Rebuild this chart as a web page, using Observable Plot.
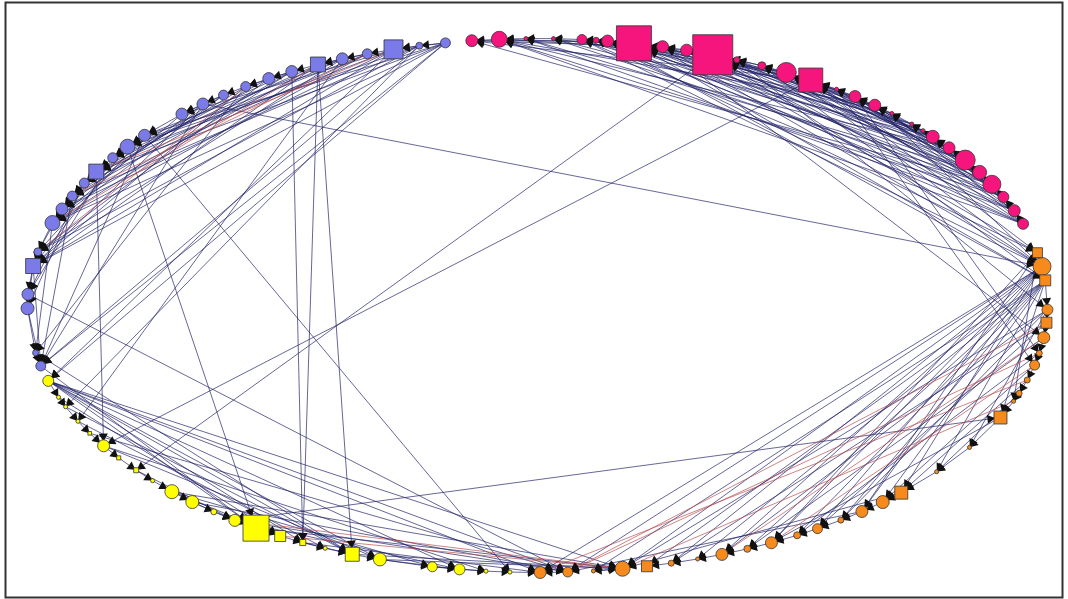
<!DOCTYPE html>
<html><head><meta charset="utf-8">
<script src="https://cdn.jsdelivr.net/npm/d3@7"></script>
<script src="https://cdn.jsdelivr.net/npm/@observablehq/plot@0.6"></script>
<style>body{margin:0;background:#fff}svg{display:block}</style>
</head><body><div id="chart"></div>
<script>
// Node lists: [layout angle (deg, counter-clockwise from east), shape, weight]
const blueNodes = [
  [100.4,"circle",4.7],[103.4,"circle",2.3],[106.4,"square",21.7],[109.5,"circle",4.7],[112.5,"circle",6.8],
  [115.5,"square",13.5],[118.8,"circle",6.8],[121.8,"circle",6.8],[124.9,"circle",4.7],[128.0,"circle",4.7],
  [131.0,"circle",6.8],[134.2,"circle",6.8],[140.4,"circle",6.8],[143.5,"circle",10.6],[146.4,"circle",4.7],
  [149.9,"square",13.5],[152.7,"circle",4.7],[155.8,"circle",4.7],[158.8,"circle",6.8],[162.0,"circle",10.6],
  [168.4,"circle",3],[171.5,"square",13.5],[177.6,"circle",6.8],[180.6,"circle",8],[190.2,"circle",1.7],[193.1,"circle",4.7]
];
const yellowNodes = [
  [196.4,"circle",5.7],[200.1,"circle",0.8],[202.3,"circle",0.8],[205.7,"circle",0.8],[208.6,"square",0.8],
  [211.7,"circle",6.8],[214.8,"square",1],[218.1,"square",1.5],[221.0,"circle",0.8],[224.2,"circle",9.3],
  [227.4,"circle",8],[230.6,"circle",1.7],[233.6,"circle",6.8],[236.5,"square",40.7],[239.7,"square",7.3],
  [242.6,"square",2.2],[245.4,"circle",0.8],[248.7,"square",11.8],[252.0,"circle",8],[258.1,"circle",4.7],
  [261.2,"circle",5.7],[264.2,"circle",0.8],[266.9,"circle",0.8]
];
const orangeNodes = [
  [270.3,"circle",6.8],[273.4,"circle",4.7],[276.3,"circle",0.8],[279.6,"circle",10.6],[282.4,"square",7.3],
  [285.2,"circle",1.7],[288.3,"circle",0.8],[291.2,"circle",6.8],[294.3,"circle",2.3],[297.3,"circle",6.8],
  [300.6,"circle",2.3],[303.3,"circle",4.7],[306.5,"circle",1.7],[309.5,"circle",6.8],[312.6,"circle",8],
  [315.5,"square",10.2],[321.5,"circle",0.8],[327.9,"circle",0.8],[335.2,"square",10.2],[339.0,"circle",0.8],
  [340.8,"circle",1.7],[343.8,"circle",1.7],[347.1,"circle",4.7],[349.7,"circle",1.7],[353.1,"circle",6.8],
  [356.3,"square",7.3],[359.1,"circle",5.7],[365.4,"square",7.3],[368.4,"circle",15.3],[371.4,"square",6]
];
const pinkNodes = [
  [17.8,"circle",5.7],[20.8,"circle",6.8],[24.0,"circle",5.7],[27.0,"circle",15.3],[29.9,"circle",9.3],
  [33.0,"circle",18.9],[36.2,"circle",6.8],[39.2,"circle",8],[40.9,"circle",0.8],[42.8,"circle",0.8],
  [46.0,"circle",0.8],[48.6,"circle",6.8],[51.5,"circle",6.8],[54.1,"circle",0.8],[57.6,"square",34.7],
  [60.8,"circle",18.9],[63.9,"circle",3],[67.0,"circle",1.7],[69.9,"square",96.3],[73.0,"circle",6.8],
  [75.8,"circle",6.8],[79.1,"square",73.7],[82.1,"circle",6.8],[83.4,"circle",1.7],[85.0,"circle",4.7],
  [88.2,"circle",0.8],[91.3,"circle",0.8],[94.3,"circle",12],[97.4,"circle",6.8]
];
const groupColors = {b:"#7a7ae8", y:"#ffff00", o:"#f78a1c", p:"#f5157c"};

// Directed ties [source, target]
const rimTies = [
  ["b0","b1"],["b1","b2"],["b2","b3"],["b3","b4"],["b4","b5"],["b5","b6"],["b6","b7"],["b7","b8"],["b8","b9"],["b9","b10"],
  ["b10","b11"],["b11","b12"],["b12","b13"],["b13","b14"],["b14","b15"],["b15","b16"],["b16","b17"],["b17","b18"],["b18","b19"],
  ["b19","b20"],["b20","b21"],["b21","b22"],["b22","b23"],["b23","b24"],["b24","b25"],["b0","b2"],["b3","b5"],["b6","b8"],
  ["b9","b11"],["b12","b14"],["b15","b17"],["b18","b20"],["b21","b23"],["b23","b25"],
  ["y0","y1"],["y1","y2"],["y2","y3"],["y3","y4"],["y4","y5"],["y5","y6"],["y6","y7"],["y7","y8"],["y8","y9"],["y9","y10"],
  ["y10","y11"],["y11","y12"],["y12","y13"],["y14","y15"],["y15","y16"],["y16","y17"],["y17","y18"],["y18","y19"],["y19","y20"],
  ["y20","y21"],["y21","y22"],["y22","o0"],["y10","y12"],["y15","y17"],["y18","y20"],["y19","y21"],
  ["o1","o0"],["o3","o2"],["o5","o4"],["o6","o5"],["o7","o6"],["o8","o7"],["o9","o8"],["o10","o9"],["o11","o10"],["o12","o11"],
  ["o13","o12"],["o14","o13"],["o15","o14"],["o16","o15"],["o17","o16"],["o18","o17"],["o19","o18"],["o20","o19"],["o21","o20"],
  ["o22","o21"],["o23","o22"],["o24","o23"],["o25","o24"],["o26","o25"],["o27","o26"],["o28","o27"],["o29","o28"],["o2","o3"],
  ["p0","p1"],["p1","p2"],["p2","p3"],["p3","p4"],["p4","p5"],["p5","p6"],["p6","p7"],["p7","p8"],["p8","p9"],["p9","p10"],
  ["p10","p11"],["p11","p12"],["p12","p13"],["p13","p14"],["p15","p16"],["p16","p17"],["p17","p18"],["p19","p20"],["p20","p21"],
  ["p22","p23"],["p23","p24"],["p24","p25"],["p25","p26"],["p26","p27"],["p27","p28"]
];
const blueTies = [
  ["b0","b12"],["b0","b15"],["b0","b19"],["b0","b21"],["b0","b25"],["b1","b13"],["b1","b17"],["b1","b20"],["b1","b25"],
  ["b2","b11"],["b2","b14"],["b2","b18"],["b2","b21"],["b3","b13"],["b3","b16"],["b3","b19"],["b4","b12"],["b4","b15"],
  ["b4","b20"],["b5","b14"],["b5","b18"],["b5","b21"],["b6","b13"],["b6","b17"],["b6","b19"],["b7","b15"],["b7","b20"],
  ["b8","b16"],["b8","b21"],["b9","b17"],["b9","b19"],["b10","b18"],["b10","b21"],["b11","b19"],["b12","b20"],["b13","b21"],
  ["b14","b22"],["b16","b23"],["b17","b25"],["b19","b24"],["b21","b25"],["b16","b22"],["b12","b25"],["b10","b25"],["b8","b24"],
  ["b0","y0"],["b2","y0"],["b4","y3"],["b1","y2"]
];
const yellowTies = [
  ["y0","y13"],["y0","y15"],["y0","y17"],["y0","y18"],["y0","y20"],["y0","o0"],["y0","o1"],["y0","o3"],["y1","y14"],
  ["y2","y17"],["y3","y16"],["y4","o1"],["y5","y18"],["y5","y21"],["y9","y19"],["y9","o3"],["y10","o1"],["y12","y20"],
  ["y13","o3"],["y15","o0"],["y17","o3"],["y18","o3"],["y12","o1"],["b25","y13"],["b24","y17"],["y7","y12"],["y9","y14"]
];
const orangeTies = [
  ["o28","o0"],["o28","o1"],["o28","o3"],["o28","o5"],["o28","o7"],["o28","o9"],["o28","o11"],["o28","o13"],["o28","o15"],
  ["o27","o2"],["o27","o4"],["o27","o6"],["o27","o8"],["o27","o10"],["o27","o12"],["o27","o14"],["o27","o16"],["o27","o18"],
  ["o26","o3"],["o26","o7"],["o26","o12"],["o26","o17"],["o29","o9"],["o29","o13"],["o29","o19"],["o25","o5"],["o25","o11"],
  ["o24","o8"],["o23","o10"],["o22","o14"],["o21","o15"],["o20","o16"],["o15","o3"],["o13","o1"],["o18","o9"]
];
const pinkTies = [
  ["p0","p21"],["p0","p18"],["p0","p24"],["p0","p27"],["p1","p19"],["p1","p22"],["p1","p26"],["p2","p27"],["p2","p20"],
  ["p2","p23"],["p3","p18"],["p3","p21"],["p3","p25"],["p3","p28"],["p4","p26"],["p4","p19"],["p4","p22"],["p5","p18"],
  ["p5","p21"],["p5","p24"],["p6","p20"],["p6","p22"],["p6","p27"],["p7","p18"],["p7","p21"],["p7","p25"],["p8","p19"],
  ["p8","p23"],["p9","p21"],["p9","p18"],["p10","p22"],["p10","p14"],["p11","p18"],["p11","p20"],["p11","p27"],["p12","p21"],
  ["p12","p16"],["p13","p19"],["p14","p22"],["p14","p28"],["p15","p21"],["p15","p25"],["p16","p18"],["p17","p22"],["p19","p27"],
  ["p20","p28"],["p21","p27"],["p22","p28"],["p5","p15"],["p3","p11"],["p1","p7"],["p0","p5"],["p2","p12"],["p6","p14"],
  ["p0","p14"],["p1","p15"],["p2","p16"],["p3","p17"],["p4","p14"],["p5","p12"],["p6","p16"],["p7","p15"],["p8","p17"],
  ["p9","p14"],["p0","p10"],["p2","p9"],["p4","p11"],["p1","p12"],["p3","p13"],
  ["p18","o28"],["p21","o27"],["p19","o29"],["p15","o28"],["p22","o27"],["p14","o29"],["p24","o28"],
  ["p16","o27"],["p20","o28"],["p23","o29"],["p11","o28"],["p17","o26"]
];
const crossTies = [
  ["b10","o28"],["p18","y7"],["p14","y5"],["b5","y15"],["b6","y15"],["b5","y17"],["b15","y5"],["b13","y13"],["b12","y22"],
  ["b22","o1"],["y12","o18"],["p20","o24"],["p13","o22"],["p12","o23"]
];
const redTies = [
  ["b3","b17"],["b5","b19"],["b8","b20"],["b2","b15"],["y12","o3"],["y14","o3"],["o25","o1"],["o23","o1"],["o21","o0"],
  ["o19","o3"],["o22","o9"],["o24","o7"]
];

// layout of the ring
const W = 1068, H = 599, cx = 537, cy = 305, rx = 510, ry = 267;
const nodes = [];
for (const [list, p] of [[blueNodes,"b"],[yellowNodes,"y"],[orangeNodes,"o"],[pinkNodes,"p"]]) {
  list.forEach(([a, shape, w], i) => {
    const t = a * Math.PI / 180;
    nodes.push({id: p + i, group: p, shape, weight: w, x: cx + rx * Math.cos(t), y: cy - ry * Math.sin(t)});
  });
}
const byId = new Map(nodes.map(d => [d.id, d]));
const pxR = w => 23 * Math.sqrt(w / 100);
function links(list) {
  return list.filter(([s, t]) => byId.has(s) && byId.has(t)).map(([s, t]) => {
    const a = byId.get(s), b = byId.get(t);
    return {x1: a.x, y1: a.y, x2: b.x, y2: b.y, a, b};
  });
}
const navy = links([...rimTies, ...blueTies, ...yellowTies, ...orangeTies, ...pinkTies, ...crossTies]);
const red = links(redTies);
const heads = [...navy, ...red].map(({a, b}) => {
  const dx = b.x - a.x, dy = b.y - a.y, L = Math.hypot(dx, dy);
  const off = pxR(b.weight) * (b.shape === "square" ? 0.95 : 1) + 3.5;
  return {x: b.x - dx / L * off, y: b.y - dy / L * off, rot: Math.atan2(dx, -dy) * 180 / Math.PI};
});

const marks = [
  Plot.frame({stroke: "#333", strokeWidth: 2, insetLeft: 5, insetTop: 2, insetRight: 6, insetBottom: 2}),
  Plot.link(navy, {x1: "x1", y1: "y1", x2: "x2", y2: "y2", stroke: "#1e1e66", strokeWidth: 0.75, strokeOpacity: 0.9}),
  Plot.link(red, {x1: "x1", y1: "y1", x2: "x2", y2: "y2", stroke: "#b8484a", strokeWidth: 0.75, strokeOpacity: 0.9}),
  Plot.dot(heads, {x: "x", y: "y", symbol: "triangle", r: 3.4, fill: "#111", rotate: "rot"})
];
for (const g of ["b", "y", "o", "p"]) {
  for (const s of ["circle", "square"]) {
    marks.push(Plot.dot(nodes.filter(d => d.group === g && d.shape === s),
      {x: "x", y: "y", r: "weight", symbol: s, fill: groupColors[g], stroke: "#333", strokeWidth: 0.8}));
  }
}
const chart = Plot.plot({
  width: W, height: H, margin: 0,
  x: {domain: [0, W], axis: null},
  y: {domain: [0, H], reverse: true, axis: null},
  r: {type: "sqrt", domain: [0, 100], range: [0, 23]},
  marks
});
document.getElementById("chart").append(chart);
</script>
</body></html>
